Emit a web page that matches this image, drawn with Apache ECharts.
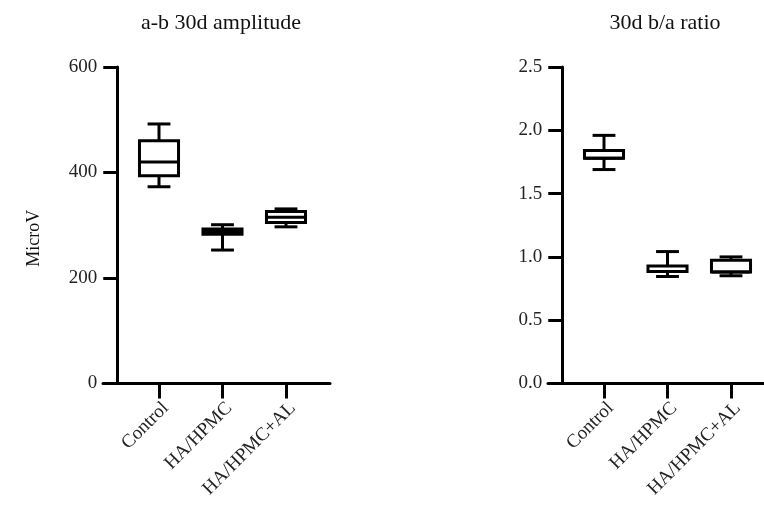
<!DOCTYPE html>
<html>
<head>
<meta charset="utf-8">
<script src="https://cdn.jsdelivr.net/npm/echarts@6/dist/echarts.min.js"></script>
<style>html,body{margin:0;padding:0;background:#fff}#c{width:764px;height:508px}</style>
</head>
<body>
<div id="c"></div>
<script>
var categories = ['Control', 'HA/HPMC', 'HA/HPMC+AL'];
// [min, Q1, median, Q3, max]
var amplitudeBoxes = [
  [373, 394, 420, 460, 492],
  [253, 283, 288, 293, 301],
  [297, 305, 315, 326, 331]
];
var ratioBoxes = [
  [1.69, 1.78, 1.78, 1.84, 1.96],
  [0.845, 0.884, 0.884, 0.928, 1.042],
  [0.851, 0.881, 0.881, 0.973, 1.00]
];
var amplitudeTicks = [0, 200, 400, 600];
var ratioTicks = [0, 0.5, 1.0, 1.5, 2.0, 2.5];
var titles = ['a-b 30d amplitude', '30d b/a ratio'];
var yName = 'MicroV';

var FONT = '"Liberation Serif", "DejaVu Serif", serif';
var chart = echarts.init(document.getElementById('c'));

function toItems(boxes) {
  return boxes.map(function (b, i) { return [i].concat(b); });
}

function renderBox(params, api) {
  var x = api.value(0);
  var band = api.size([1, 0])[0];
  var bw = band * 0.615, cw = band * 0.36;
  var pMin = api.coord([x, api.value(1)]);
  var pQ1 = api.coord([x, api.value(2)]);
  var pMed = api.coord([x, api.value(3)]);
  var pQ3 = api.coord([x, api.value(4)]);
  var pMax = api.coord([x, api.value(5)]);
  var cx = pMin[0];
  var st = { stroke: '#000', lineWidth: 3, fill: null };
  return {
    type: 'group',
    children: [
      { type: 'line', shape: { x1: cx, y1: pQ3[1], x2: cx, y2: pMax[1] }, style: st },
      { type: 'line', shape: { x1: cx, y1: pQ1[1], x2: cx, y2: pMin[1] }, style: st },
      { type: 'line', shape: { x1: cx - cw / 2, y1: pMax[1], x2: cx + cw / 2, y2: pMax[1] }, style: st },
      { type: 'line', shape: { x1: cx - cw / 2, y1: pMin[1], x2: cx + cw / 2, y2: pMin[1] }, style: st },
      { type: 'rect', shape: { x: cx - bw / 2, y: pQ3[1], width: bw, height: pQ1[1] - pQ3[1] }, style: { stroke: '#000', lineWidth: 3, fill: '#fff' } },
      { type: 'line', shape: { x1: cx - bw / 2, y1: pMed[1], x2: cx + bw / 2, y2: pMed[1] }, style: st }
    ]
  };
}

var band = 63.5;
function catGrid(center0) { return { left: center0 - band / 2, width: band * 3 }; }

var gL = catGrid(159), gR = catGrid(604);
var topY = 67, bottomY = 383.5;

var labelStyle = { fontFamily: FONT, fontSize: 19, color: '#222' };
var xLabel = Object.assign({ rotate: 45, margin: 15, interval: 0, verticalAlign: 'top' }, labelStyle);

chart.setOption({
  animation: false,
  title: [
    { text: titles[0], left: 216, top: 7, textAlign: 'center', textStyle: { fontFamily: FONT, fontSize: 22, fontWeight: 'normal', color: '#111' } },
    { text: titles[1], left: 660, top: 7, textAlign: 'center', textStyle: { fontFamily: FONT, fontSize: 22, fontWeight: 'normal', color: '#111' } }
  ],
  grid: [
    { left: gL.left, width: gL.width, top: topY, height: bottomY - topY },
    { left: 103, width: 227, top: topY, height: bottomY - topY },
    { left: gR.left, width: gR.width, top: topY, height: bottomY - topY },
    { left: 548, width: 216, top: topY, height: bottomY - topY }
  ],
  xAxis: [
    { type: 'category', data: categories, gridIndex: 0, boundaryGap: true,
      axisLine: { show: false },
      axisTick: { show: true, alignWithLabel: true, length: 15, lineStyle: { color: '#000', width: 3 } },
      axisLabel: xLabel },
    { type: 'value', gridIndex: 1, min: 0, max: 1, axisLine: { show: true, onZero: false, lineStyle: { color: '#000', width: 3 } },
      axisTick: { show: false }, axisLabel: { show: false }, splitLine: { show: false } },
    { type: 'category', data: categories, gridIndex: 2, boundaryGap: true,
      axisLine: { show: false },
      axisTick: { show: true, alignWithLabel: true, length: 15, lineStyle: { color: '#000', width: 3 } },
      axisLabel: xLabel },
    { type: 'value', gridIndex: 3, min: 0, max: 1, axisLine: { show: true, onZero: false, lineStyle: { color: '#000', width: 3 } },
      axisTick: { show: false }, axisLabel: { show: false }, splitLine: { show: false } }
  ],
  yAxis: [
    { type: 'value', gridIndex: 0, min: amplitudeTicks[0], max: amplitudeTicks[amplitudeTicks.length - 1], interval: 200, offset: 10,
      axisLine: { show: true, onZero: false, lineStyle: { color: '#000', width: 3 } },
      axisTick: { show: true, length: 14, lineStyle: { color: '#000', width: 3 } },
      axisLabel: Object.assign({ margin: 20 }, labelStyle),
      splitLine: { show: false },
      name: yName, nameLocation: 'middle', nameGap: 74,
      nameTextStyle: { fontFamily: FONT, fontSize: 18, color: '#111', padding: [0, 26, 0, 0] } },
    { type: 'value', gridIndex: 1, min: 0, max: 1, show: false, splitLine: { show: false } },
    { type: 'value', gridIndex: 2, min: ratioTicks[0], max: ratioTicks[ratioTicks.length - 1], interval: 0.5, offset: 10,
      axisLine: { show: true, onZero: false, lineStyle: { color: '#000', width: 3 } },
      axisTick: { show: true, length: 14, lineStyle: { color: '#000', width: 3 } },
      axisLabel: Object.assign({ margin: 20, formatter: function (v) { return v.toFixed(1); } }, labelStyle),
      splitLine: { show: false } },
    { type: 'value', gridIndex: 3, min: 0, max: 1, show: false, splitLine: { show: false } }
  ],
  series: [
    { type: 'custom', xAxisIndex: 0, yAxisIndex: 0, renderItem: renderBox, data: toItems(amplitudeBoxes), encode: { x: 0, y: [1, 2, 3, 4, 5] } },
    { type: 'custom', xAxisIndex: 2, yAxisIndex: 2, renderItem: renderBox, data: toItems(ratioBoxes), encode: { x: 0, y: [1, 2, 3, 4, 5] } }
  ]
});
</script>
</body>
</html>
